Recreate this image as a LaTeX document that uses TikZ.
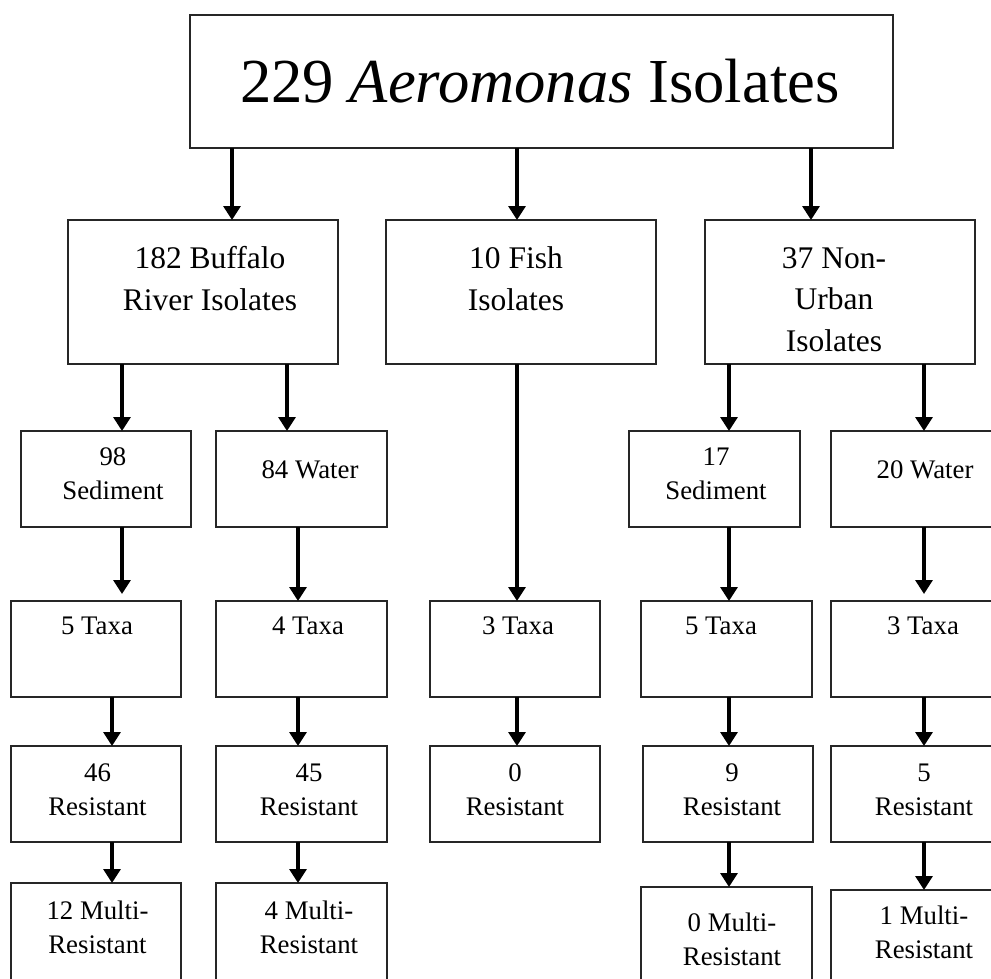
\documentclass[tikz,border=0pt]{standalone}
\usepackage{fontspec}
\setmainfont{Liberation Serif}
\usetikzlibrary{arrows.meta}
\begin{document}
\begin{tikzpicture}[x=1pt,y=-1pt,
 box/.style={draw=black!85, line width=1.6pt, inner sep=0pt, outer sep=0pt, anchor=north west},
 arr/.style={line width=3.2pt, -{Triangle[width=17pt,length=14pt]}},
 ttl/.style={font=\fontsize{62.6}{70}\selectfont, anchor=base, inner sep=0pt},
 big/.style={font=\fontsize{31.5}{41.5}\selectfont, align=center, anchor=base, inner sep=0pt},
 sm/.style={font=\fontsize{26.8}{33.5}\selectfont, align=center, anchor=base, inner sep=0pt}]
\useasboundingbox (0,0) rectangle (991,978);
\clip (0,0) rectangle (991,978);
% boxes
\newcommand{\mybox}[5]{\node[box, minimum width={#4-#2}, minimum height={#5-#3}] (#1) at (#2,#3) {};}
\mybox{top}{190}{15}{893}{148}
\mybox{buf}{68}{220}{338}{364}
\mybox{fish}{386}{220}{656}{364}
\mybox{nonu}{705}{220}{975}{364}
\mybox{sedA}{21}{431}{191}{527}
\mybox{watA}{216}{431}{387}{527}
\mybox{sedB}{629}{431}{800}{527}
\mybox{watB}{831}{431}{1000}{527}
\mybox{taxA}{11}{601}{181}{697}
\mybox{taxB}{216}{601}{387}{697}
\mybox{taxC}{430}{601}{600}{697}
\mybox{taxD}{641}{601}{812}{697}
\mybox{taxE}{831}{601}{1000}{697}
\mybox{resA}{11}{746}{181}{842}
\mybox{resB}{216}{746}{387}{842}
\mybox{resC}{430}{746}{600}{842}
\mybox{resD}{643}{746}{813}{842}
\mybox{resE}{831}{746}{1000}{842}
\mybox{mulA}{11}{883}{181}{995}
\mybox{mulB}{216}{883}{387}{995}
\mybox{mulD}{641}{887}{812}{995}
\mybox{mulE}{831}{890}{1000}{995}
% texts (anchor = baseline of the last line)
\node[ttl] (ttop) at (540,102) {229 \textit{Aeromonas} Isolates};
\node[big] (tbuf) at (210,310) {182 Buffalo\\River Isolates};
\node[big] (tfish) at (516,310) {10 Fish\\Isolates};
\node[big] (tnonu) at (834,351) {37 Non-\\Urban\\Isolates};
\node[sm] (tsedA) at (113,499) {98\\Sediment};
\node[sm] (twatA) at (310,478) {84 Water};
\node[sm] (tsedB) at (716,499) {17\\Sediment};
\node[sm] (twatB) at (925,478) {20 Water};
\node[sm] (ttaxA) at (97,634) {5 Taxa};
\node[sm] (ttaxB) at (308,634) {4 Taxa};
\node[sm] (ttaxC) at (518,634) {3 Taxa};
\node[sm] (ttaxD) at (721,634) {5 Taxa};
\node[sm] (ttaxE) at (923,634) {3 Taxa};
\node[sm] (tresA) at (97.5,815) {46\\Resistant};
\node[sm] (tresB) at (309,815) {45\\Resistant};
\node[sm] (tresC) at (515,815) {0\\Resistant};
\node[sm] (tresD) at (732,815) {9\\Resistant};
\node[sm] (tresE) at (924,815) {5\\Resistant};
\node[sm] (tmulA) at (97.5,953) {12 Multi-\\Resistant};
\node[sm] (tmulB) at (309,953) {4 Multi-\\Resistant};
\node[sm] (tmulD) at (732,965) {0 Multi-\\Resistant};
\node[sm] (tmulE) at (924,958) {1 Multi-\\Resistant};
% arrows
\draw[arr] (232,0 |- top.south) -- (232,0 |- buf.north);
\draw[arr] (517,0 |- top.south) -- (517,0 |- fish.north);
\draw[arr] (811,0 |- top.south) -- (811,0 |- nonu.north);
\draw[arr] (122,0 |- buf.south) -- (122,0 |- sedA.north);
\draw[arr] (287,0 |- buf.south) -- (287,0 |- watA.north);
\draw[arr] (517,0 |- fish.south) -- (517,0 |- taxC.north);
\draw[arr] (729,0 |- nonu.south) -- (729,0 |- sedB.north);
\draw[arr] (924,0 |- nonu.south) -- (924,0 |- watB.north);
\draw[arr, shorten >=7pt] (122,0 |- sedA.south) -- (122,0 |- taxA.north);
\draw[arr] (298,0 |- watA.south) -- (298,0 |- taxB.north);
\draw[arr] (729,0 |- sedB.south) -- (729,0 |- taxD.north);
\draw[arr, shorten >=7pt] (924,0 |- watB.south) -- (924,0 |- taxE.north);
\draw[arr] (112,0 |- taxA.south) -- (112,0 |- resA.north);
\draw[arr] (298,0 |- taxB.south) -- (298,0 |- resB.north);
\draw[arr] (517,0 |- taxC.south) -- (517,0 |- resC.north);
\draw[arr] (729,0 |- taxD.south) -- (729,0 |- resD.north);
\draw[arr] (924,0 |- taxE.south) -- (924,0 |- resE.north);
\draw[arr] (112,0 |- resA.south) -- (112,0 |- mulA.north);
\draw[arr] (298,0 |- resB.south) -- (298,0 |- mulB.north);
\draw[arr] (729,0 |- resD.south) -- (729,0 |- mulD.north);
\draw[arr] (924,0 |- resE.south) -- (924,0 |- mulE.north);
\end{tikzpicture}
\end{document}
